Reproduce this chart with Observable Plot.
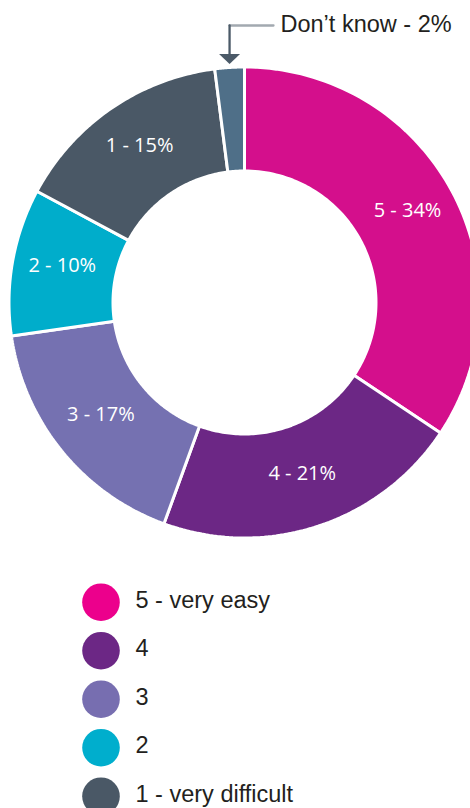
<!DOCTYPE html>
<html>
<head>
<meta charset="utf-8">
<script src="https://cdn.jsdelivr.net/npm/d3@7"></script>
<script src="https://cdn.jsdelivr.net/npm/@observablehq/plot@0.6"></script>
<style>
  html, body { margin: 0; padding: 0; background: #ffffff; }
  #chart svg { display: block; }
</style>
</head>
<body>
<div id="chart"></div>
<script>
// ---- data ----
const categories = ["5", "4", "3", "2", "1", "Don’t know"];
const percents = [34, 21, 17, 10, 15, 2];
const sliceLabels = ["5 - 34%", "4 - 21%", "3 - 17%", "2 - 10%", "1 - 15%", "Don’t know - 2%"];
const sliceColors = ["#d40f8c", "#6c2785", "#7571b1", "#00adcb", "#4a5866", "#4f6f88"];
const legendLabels = ["5 - very easy", "4", "3", "2", "1 - very difficult"];
const legendColors = ["#ec008c", "#6c2785", "#776eb0", "#00aecd", "#4a5866"];

// ---- layout ----
const W = 470, H = 808;
const CX = 244, CY = 302;         // pixel position of the donut centre
const R_OUT = 235.5, R_IN = 131.5;
const LABEL_R = 185;

const rows = categories.map((c, i) => ({key: c, value: percents[i], label: sliceLabels[i], color: sliceColors[i]}));
const arcs = d3.pie().sort(null).value(d => d.value).startAngle(0).endAngle(2 * Math.PI)(rows);

const pt = (a, rho) => [rho * Math.sin(a), -rho * Math.cos(a)];

// polygon outline of each ring slice
const poly = [];
arcs.forEach(a => {
  const N = 80;
  for (let k = 0; k <= N; k++) {
    const t = a.startAngle + (a.endAngle - a.startAngle) * k / N;
    const [x, y] = pt(t, R_OUT);
    poly.push({key: a.data.key, color: a.data.color, x, y});
  }
  for (let k = N; k >= 0; k--) {
    const t = a.startAngle + (a.endAngle - a.startAngle) * k / N;
    const [x, y] = pt(t, R_IN);
    poly.push({key: a.data.key, color: a.data.color, x, y});
  }
});

// inside labels (all but "Don't know")
const labels = arcs.slice(0, 5).map(a => {
  const m = (a.startAngle + a.endAngle) / 2;
  const [x, y] = pt(m, LABEL_R);
  return {x, y, text: a.data.label};
});

// annotation for "Don't know"
const dk = arcs[5];
const dkMid = (dk.startAngle + dk.endAngle) / 2;
const tipX = pt(dkMid, R_OUT)[0];
const tipY = -(R_OUT + 3);
const elbowY = -277;
const headH = 10, headW = 10.5;
const leaderH = [{x: tipX, y: elbowY}, {x: 29, y: elbowY}];
const leaderV = [{x: tipX, y: elbowY}, {x: tipX, y: tipY - headH}];
const head = [
  {x: tipX, y: tipY},
  {x: tipX - headW, y: tipY - headH},
  {x: tipX + headW, y: tipY - headH}
];
const dkText = [{x: 36, y: elbowY, text: dk.data.label}];

// legend
const LEG_X = 100.5 - CX, LEG_TEXT_X = 135 - CX, LEG_Y0 = 601.7 - CY, LEG_STEP = 48.5;
const legend = legendLabels.map((t, i) => ({x: LEG_X, tx: LEG_TEXT_X, y: LEG_Y0 + i * LEG_STEP, text: t, color: legendColors[i]}));

const chart = Plot.plot({
  width: W,
  height: H,
  margin: 0,
  x: {domain: [-CX, W - CX], range: [0, W], axis: null},
  y: {domain: [-CY, H - CY], range: [0, H], axis: null},
  color: {type: "identity"},
  style: {background: "#ffffff"},
  marks: [
    Plot.line(poly, {x: "x", y: "y", z: "key", fill: "color", stroke: "#ffffff", strokeWidth: 3, curve: "linear-closed", strokeLinejoin: "miter"}),
    Plot.text(labels, {x: "x", y: "y", text: "text", fill: "#ffffff", fontSize: 20, fontFamily: "Open Sans, sans-serif", textAnchor: "middle", dy: -5}),
    Plot.line(leaderH, {x: "x", y: "y", stroke: "#a2a9b0", strokeWidth: 2.3}),
    Plot.line(leaderV, {x: "x", y: "y", stroke: "#4b5a68", strokeWidth: 2.3}),
    Plot.line(head, {x: "x", y: "y", fill: "#4b5a68", stroke: "none", curve: "linear-closed"}),
    Plot.text(dkText, {x: "x", y: "y", text: "text", fill: "#231f20", fontSize: 23.5, fontFamily: "Liberation Sans, Arial, sans-serif", textAnchor: "start", dy: -1}),
    Plot.dot(legend, {x: "x", y: "y", r: 18.8, fill: "color", stroke: "none"}),
    Plot.text(legend, {x: "tx", y: "y", text: "text", fill: "#231f20", fontSize: 23.5, fontFamily: "Liberation Sans, Arial, sans-serif", textAnchor: "start", dy: -2})
  ]
});
document.getElementById("chart").appendChild(chart);
</script>
</body>
</html>
